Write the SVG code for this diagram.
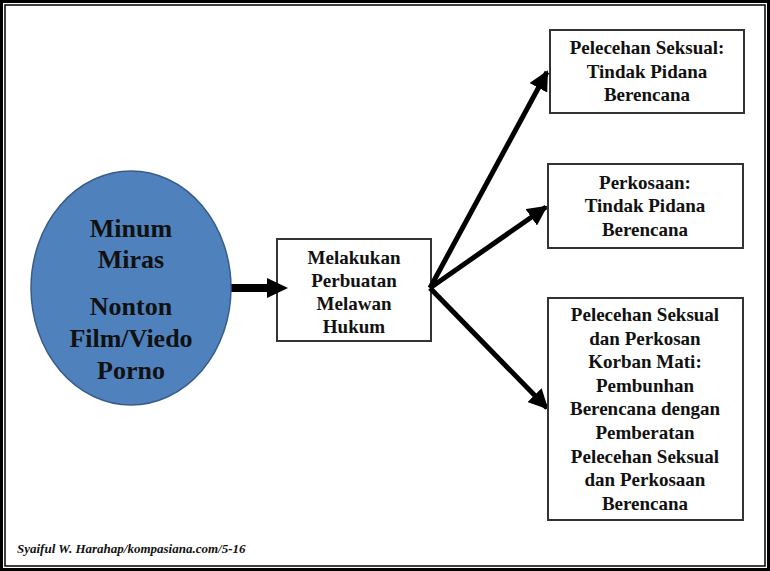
<svg xmlns="http://www.w3.org/2000/svg" width="770" height="571" viewBox="0 0 770 571">
<style>
.t{font-family:"Liberation Serif","Times New Roman",serif;font-weight:bold;fill:#111;text-anchor:middle}
.box{fill:#fff;stroke:#333;stroke-width:2}
.c{stroke:#000;fill:none}
</style>
<defs>
<marker id="ah2" viewBox="0 0 10 10" refX="9" refY="5" markerWidth="4" markerHeight="4" markerUnits="strokeWidth" orient="auto">
<path d="M0,0 L10,5 L0,10 z" fill="#000"/>
</marker>
</defs>
<rect x="0" y="0" width="770" height="571" fill="#fff"/>
<rect x="1.5" y="1.5" width="767" height="568" fill="none" stroke="#000" stroke-width="3"/>
<rect x="5" y="5" width="760" height="561" fill="none" stroke="#000" stroke-width="1.5"/>
<g id="middle">
<rect class="box" x="277" y="239" width="154" height="102"/>
<text class="t" font-size="19"><tspan x="354" y="264">Melakukan</tspan><tspan x="354" y="287">Perbuatan</tspan><tspan x="354" y="310">Melawan</tspan><tspan x="354" y="333">Hukum</tspan></text>
</g>
<g id="connectors">
<line class="c" x1="231" y1="288" x2="270" y2="288" stroke-width="8"/>
<polygon points="267,278 288,288 267,298" fill="#000"/>
<line class="c" x1="430" y1="288" x2="547" y2="72" stroke-width="5" marker-end="url(#ah2)"/>
<line class="c" x1="430" y1="288" x2="546" y2="207" stroke-width="5" marker-end="url(#ah2)"/>
<line class="c" x1="430" y1="288" x2="547" y2="408" stroke-width="5" marker-end="url(#ah2)"/>
</g>
<g id="ellipse">
<ellipse cx="131" cy="288" rx="100" ry="117" fill="#4F81BD" stroke="#385D8A" stroke-width="1.5"/>
<text class="t" font-size="26"><tspan x="131" y="237">Minum</tspan><tspan x="131" y="268">Miras</tspan><tspan x="131" y="315">Nonton</tspan><tspan x="131" y="347">Film/Viedo</tspan><tspan x="131" y="379">Porno</tspan></text>
</g>
<g id="box1">
<rect class="box" x="550" y="30" width="194" height="83"/>
<text class="t" font-size="19"><tspan x="647" y="54">Pelecehan Seksual:</tspan><tspan x="647" y="78">Tindak Pidana</tspan><tspan x="647" y="101">Berencana</tspan></text>
</g>
<g id="box2">
<rect class="box" x="548" y="164" width="195" height="84"/>
<text class="t" font-size="19"><tspan x="645" y="189">Perkosaan:</tspan><tspan x="645" y="212">Tindak Pidana</tspan><tspan x="645" y="236">Berencana</tspan></text>
</g>
<g id="box3">
<rect class="box" x="548" y="298" width="195" height="222"/>
<text class="t" font-size="19"><tspan x="645" y="321">Pelecehan Seksual</tspan><tspan x="645" y="345">dan Perkosan</tspan><tspan x="645" y="368">Korban Mati:</tspan><tspan x="645" y="392">Pembunhan</tspan><tspan x="645" y="415">Berencana dengan</tspan><tspan x="645" y="439">Pemberatan</tspan><tspan x="645" y="463">Pelecehan Seksual</tspan><tspan x="645" y="486">dan Perkosaan</tspan><tspan x="645" y="510">Berencana</tspan></text>
</g>
<g id="footer">
<text x="17" y="553" font-family="Liberation Serif,'Times New Roman',serif" font-weight="bold" font-style="italic" font-size="13" fill="#111">Syaiful W. Harahap/kompasiana.com/5-16</text>
</g>
</svg>
